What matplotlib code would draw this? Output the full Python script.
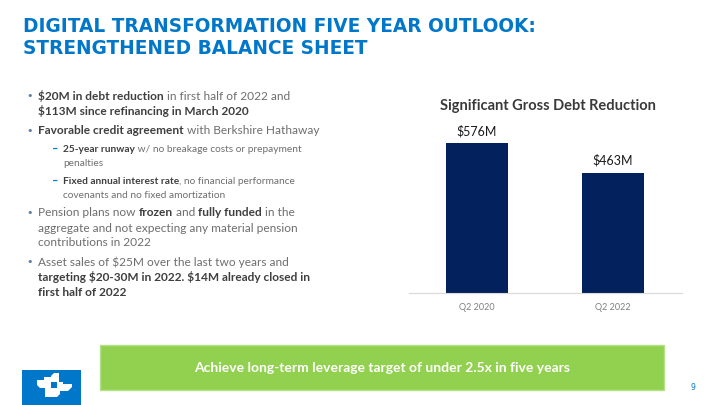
import matplotlib
matplotlib.use("Agg")
import matplotlib.pyplot as plt
from matplotlib.patches import Rectangle, Polygon

# ─── DATA ────────────────────────────────────────────────────────────────
periods = ["Q2 2020", "Q2 2022"]
gross_debt = [576, 463]          # $M
debt_labels = ["$576M", "$463M"]

title_lines = ["DIGITAL TRANSFORMATION FIVE YEAR OUTLOOK:",
               "STRENGTHENED BALANCE SHEET"]
chart_title = "Significant Gross Debt Reduction"
banner_text = "Achieve long-term leverage target of under 2.5x in five years"

# each bullet: (level, y pixel of first line, list of lines, each line = list of (text, bold))
bullets = [
    (0, 96, [[("$20M in debt reduction", True), (" in first half of 2022 and", False)],
             [("$113M since refinancing in March 2020", True)]]),
    (0, 131, [[("Favorable credit agreement", True), (" with Berkshire Hathaway", False)]]),
    (1, 149, [[("25-year runway", True), (" w/ no breakage costs or prepayment", False)],
              [("penalties", False)]]),
    (1, 181, [[("Fixed annual interest rate", True), (", no financial performance", False)],
              [("covenants and no fixed amortization", False)]]),
    (0, 213, [[("Pension plans now ", False), ("frozen", True), (" and ", False),
               ("fully funded", True), (" in the", False)],
              [("aggregate and not expecting any material pension", False)],
              [("contributions in 2022", False)]]),
    (0, 262, [[("Asset sales of $25M over the last two years and", False)],
              [("targeting $20-30M in 2022. $14M already closed in", True)],
              [("first half of 2022", True)]]),
]

# ─── STYLE ───────────────────────────────────────────────────────────────
BLUE = '#0077C8'
NAVY = '#03215C'
GREEN = '#92D050'
TXT = '#6E6E6E'
TXT_B = '#3F3F3F'
W, H = 720, 405

fig = plt.figure(figsize=(7.2, 4.05), dpi=100)
bg = fig.add_axes([0, 0, 1, 1])
bg.set_xlim(0, W)
bg.set_ylim(H, 0)
bg.axis('off')
renderer = fig.canvas.get_renderer()

# title
for i, line in enumerate(title_lines):
    bg.text(23, 27 + i * 21, line, fontsize=13.35, fontweight='bold', color=BLUE,
            family='DejaVu Sans', va='center', ha='left')


def draw_runs(x, y, runs, size):
    for txt, bold in runs:
        t = bg.text(x, y, txt, fontsize=size, family='Lato',
                    fontweight='bold' if bold else 'normal',
                    color=TXT_B if bold else TXT, va='center', ha='left',
                    parse_math=False)
        bb = t.get_window_extent(renderer)
        x += bb.width * W / fig.bbox.width


for level, y0, lines in bullets:
    if level == 0:
        bg.text(30, y0, "•", fontsize=8, color='#5B7FA6', va='center', ha='center',
                family='DejaVu Sans')
        x0, size, step = 38, 8.6, 15
    else:
        bg.text(55, y0, "–", fontsize=8, color=BLUE, va='center', ha='center',
                family='Lato', fontweight='bold')
        x0, size, step = 63, 7.3, 14
    for j, runs in enumerate(lines):
        draw_runs(x0, y0 + j * step, runs, size)

# banner
bg.add_patch(Rectangle((100, 345), 564, 45, facecolor=GREEN, edgecolor='#B5E08A', lw=1))
bg.text(382, 368, banner_text, fontsize=10, color='white', family='Lato',
        fontweight='bold', ha='center', va='center')

# logo: white pinwheel round a small blue square
bg.add_patch(Rectangle((22, 370), 59, 40, facecolor=BLUE, edgecolor='none'))
logo_shapes = [
    [(37, 380), (44, 380), (44, 377), (51, 377), (51, 388), (40, 388), (37, 385)],
    [(51, 376), (54, 373), (59, 373), (59, 382), (51, 382)],
    [(57, 382), (63, 382), (63, 384), (72, 384), (72, 387), (68, 391), (57, 391)],
    [(45, 388), (57, 388), (57, 391), (60, 391), (60, 394), (57, 397), (45, 397)],
]
for pts in logo_shapes:
    bg.add_patch(Polygon(pts, closed=True, facecolor='white', edgecolor='none'))

bg.text(693, 388, "9", fontsize=5.5, color=BLUE, ha='center', va='center')

# ─── BAR CHART ───────────────────────────────────────────────────────────
ax = fig.add_axes([409 / W, (H - 293) / H, 273 / W, 182 / H])
x = range(len(periods))
bars = ax.bar(x, gross_debt, width=0.456, color=NAVY, zorder=2)
ax.set_xlim(-0.5, 1.51)
ax.set_ylim(0, 700)
for b, lab in zip(bars, debt_labels):
    ax.text(b.get_x() + b.get_width() / 2, b.get_height() + 22, lab, ha='center',
            va='bottom', fontsize=9, family='Lato', color='#1A1A1A', parse_math=False)
ax.set_xticks(list(x))
ax.set_xticklabels(periods, fontsize=6.5, family='Lato', color='#7F7F7F')
ax.tick_params(axis='x', length=0, pad=7)
ax.set_yticks([])
for s in ['top', 'right', 'left']:
    ax.spines[s].set_visible(False)
ax.spines['bottom'].set_color('#D9D9D9')
ax.spines['bottom'].set_linewidth(0.8)
ax.patch.set_alpha(0)

bg.text(548, 106, chart_title, fontsize=10.5, family='Lato', fontweight='bold',
        color='#3A3A3A', ha='center', va='center')

fig.savefig('out.png', dpi=100)
